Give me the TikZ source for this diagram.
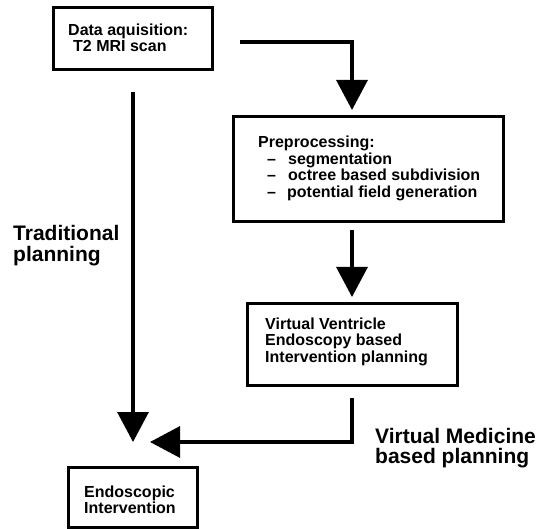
\documentclass[tikz,border=0pt]{standalone}
\usepackage{fontspec}
\setmainfont{Liberation Sans}
\usetikzlibrary{arrows.meta}
\newcommand\mlines[2]{\vtop{\baselineskip=#1\lineskiplimit=-100pt\lineskip=0pt #2}}
\tikzset{
  box/.style={draw, line width=3pt, rectangle, inner sep=0pt},
  boxtext/.style={inner sep=0pt, anchor=base west, font=\bfseries\fontsize{16}{16.5}\selectfont},
  bigtext/.style={inner sep=0pt, anchor=base west, font=\bfseries\fontsize{21}{21}\selectfont},
  flow/.style={line width=3.2pt, -{Triangle[width=31pt,length=30pt]}},
}
\begin{document}
\begin{tikzpicture}[x=1pt,y=-1pt]
\useasboundingbox (0,0) rectangle (538,529);
% boxes
\node[box, minimum width=159pt, minimum height=62pt] (b1) at (132.5,39) {};
\node[box, minimum width=270pt, minimum height=105pt] (b2) at (368,169.5) {};
\node[box, minimum width=210pt, minimum height=81pt] (b3) at (352,344.5) {};
\node[box, minimum width=129pt, minimum height=60pt] (b4) at (132.5,497.5) {};
% box texts
\node[boxtext] (t1) at (68,36) {\mlines{16pt}{\hbox{Data aquisition:}\hbox{\hspace{5pt}T2 MRI scan}}};
\node[boxtext] (t2) at (258,148) {\mlines{16.5pt}{\hbox{Preprocessing:}
  \hbox{\makebox[30pt][l]{\hspace{9pt}–}segmentation}
  \hbox{\makebox[30pt][l]{\hspace{9pt}–}octree based subdivision}
  \hbox{\makebox[29pt][l]{\hspace{9pt}–}potential field generation}}};
\node[boxtext] (t3) at (265,329) {\mlines{16.5pt}{\hbox{Virtual Ventricle}\hbox{Endoscopy based}\hbox{Intervention planning}}};
\node[boxtext] (t4) at (84,497) {\mlines{16pt}{\hbox{Endoscopic}\hbox{Intervention}}};
% side labels
\node[bigtext] (trad) at (13,241) {\mlines{21pt}{\hbox{Traditional}\hbox{planning}}};
\node[bigtext] (vm) at (375,443) {\mlines{20.5pt}{\hbox{Virtual Medicine}\hbox{based planning}}};
% connector end points
\coordinate (a1s) at (240,42);
\coordinate (a1e) at (352,110);
\coordinate (a2s) at (352,230);
\coordinate (a2e) at (352,297);
\coordinate (a3s) at (352,398);
\coordinate (a3e) at (150,442);
\coordinate (a4s) at (133,92);
\coordinate (a4e) at (133,442);
% connectors
\draw[flow] (a1s) -| (a1e);
\draw[flow] (a2s) -- (a2e);
\draw[flow] (a3s) |- (a3e);
\draw[flow] (a4s) -- (a4e);
\end{tikzpicture}
\end{document}
